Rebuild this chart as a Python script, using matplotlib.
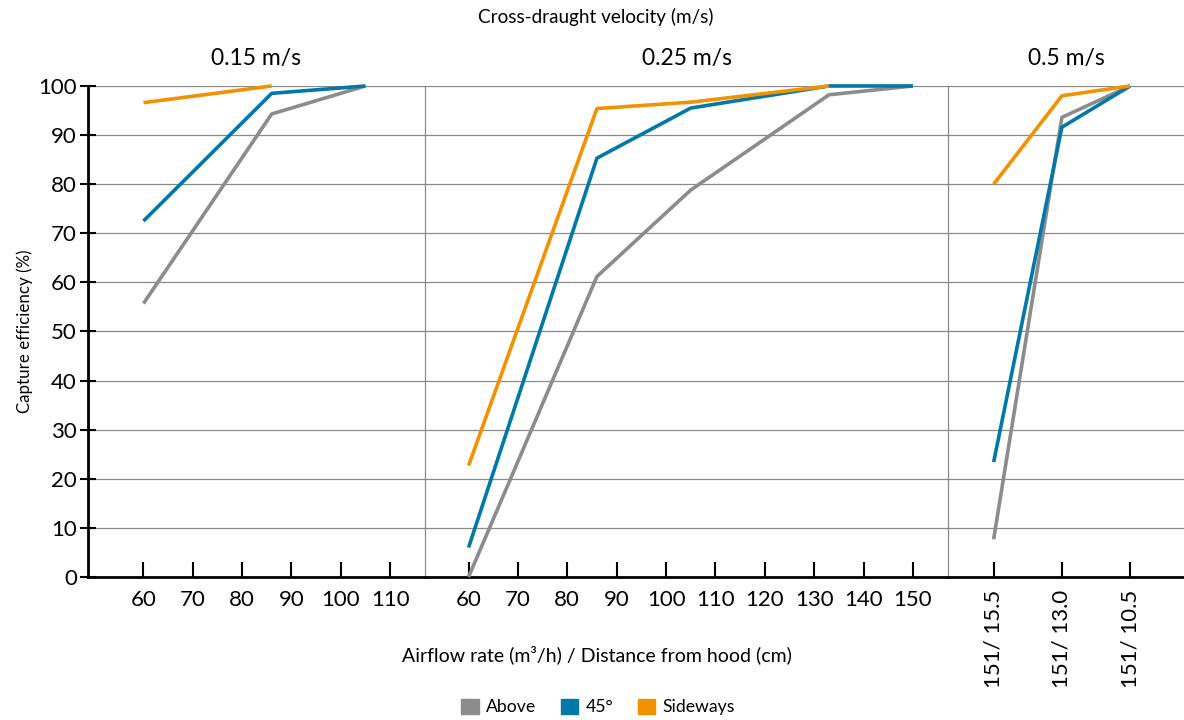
import matplotlib.pyplot as plt
from matplotlib.patches import Patch

plt.rcParams['font.family'] = ['Lato', 'DejaVu Sans']

# Cross-draught 0.15 m/s
x_015 = [60, 86, 105]
above_015 = [55.7, 94.3, 100]
deg45_015 = [72.5, 98.5, 100]
side_015 = [96.6, 100]

# Cross-draught 0.25 m/s
x_025 = [60, 86, 105, 133, 150]
above_025 = [0, 61.2, 78.8, 98.2, 100]
deg45_025 = [6.0, 85.3, 95.5, 100, 100]
side_025 = [22.7, 95.4, 96.7, 100]

# Cross-draught 0.5 m/s
cats_05 = ['151/ 15.5', '151/ 13.0', '151/ 10.5']
above_05 = [7.7, 93.6, 100]
deg45_05 = [23.4, 91.6, 100]
side_05 = [80.0, 98.0, 100]

titles = ['0.15 m/s', '0.25 m/s', '0.5 m/s']
series = ['Above', '45°', 'Sideways']
colors = ['#8c8c8c', '#0078a8', '#f39200']

fig, axes = plt.subplots(1, 3, figsize=(11.84, 7.2), dpi=100, sharey=True,
                         gridspec_kw={'width_ratios': [337.3, 522.7, 236]})
fig.subplots_adjust(left=0.0741, right=1.0, bottom=0.1986, top=0.8806, wspace=0)

x_05 = list(range(len(cats_05)))
data = [
    (x_015, [above_015, deg45_015, side_015]),
    (x_025, [above_025, deg45_025, side_025]),
    (x_05, [above_05, deg45_05, side_05]),
]

for ax, (xs, ys), title in zip(axes, data, titles):
    for y, c in zip(ys, colors):
        ax.plot(xs[:len(y)], y, color=c, lw=2.6, clip_on=False,
                solid_capstyle='butt', zorder=3)
    ax.set_ylim(0, 100)
    ax.set_yticks(range(0, 101, 10))
    ax.grid(axis='y', color='#8a8a8a', lw=0.9)
    ax.set_axisbelow(True)
    ax.set_title(title, fontsize=16.5, pad=15)
    for s in ['top', 'right', 'left']:
        ax.spines[s].set_visible(False)
    ax.spines['bottom'].set_linewidth(2)
    ax.tick_params(axis='x', direction='in', length=11, width=1.5,
                   labelsize=16, pad=9)

axes[0].set_xlim(48.7, 117.1)
axes[0].set_xticks(range(60, 111, 10))
axes[1].set_xlim(51.2, 157.1)
axes[1].set_xticks(range(60, 151, 10))
axes[2].set_xlim(-0.67, 2.79)
axes[2].set_xticks(x_05)
axes[2].set_xticklabels(cats_05, rotation=90)

axes[0].spines['left'].set_visible(True)
axes[0].spines['left'].set_linewidth(2)
axes[0].tick_params(axis='y', direction='inout', length=11.5, width=1.5,
                    labelsize=16, pad=2)
for ax in axes[1:]:
    ax.tick_params(axis='y', length=0)
    ax.spines['left'].set_visible(True)
    ax.spines['left'].set_color('#8a8a8a')
    ax.spines['left'].set_linewidth(0.9)

axes[0].set_ylabel('Capture efficiency (%)', fontsize=12.2, labelpad=4)
fig.text(596 / 1184, 1 - 17 / 720, 'Cross-draught velocity (m/s)',
         ha='center', va='center', fontsize=13.6)
fig.text(597 / 1184, 1 - 655 / 720,
         'Airflow rate (m³/h) / Distance from hood (cm)',
         ha='center', va='center', fontsize=14)

handles = [Patch(color=c, label=s) for c, s in zip(colors, series)]
fig.legend(handles=handles, loc='center', ncol=3, frameon=False,
           bbox_to_anchor=(598 / 1184, 1 - 707 / 720), fontsize=12.7,
           handlelength=1.0, handleheight=1.0, handletextpad=0.4,
           columnspacing=1.4)

fig.savefig('out.png', dpi=100)
